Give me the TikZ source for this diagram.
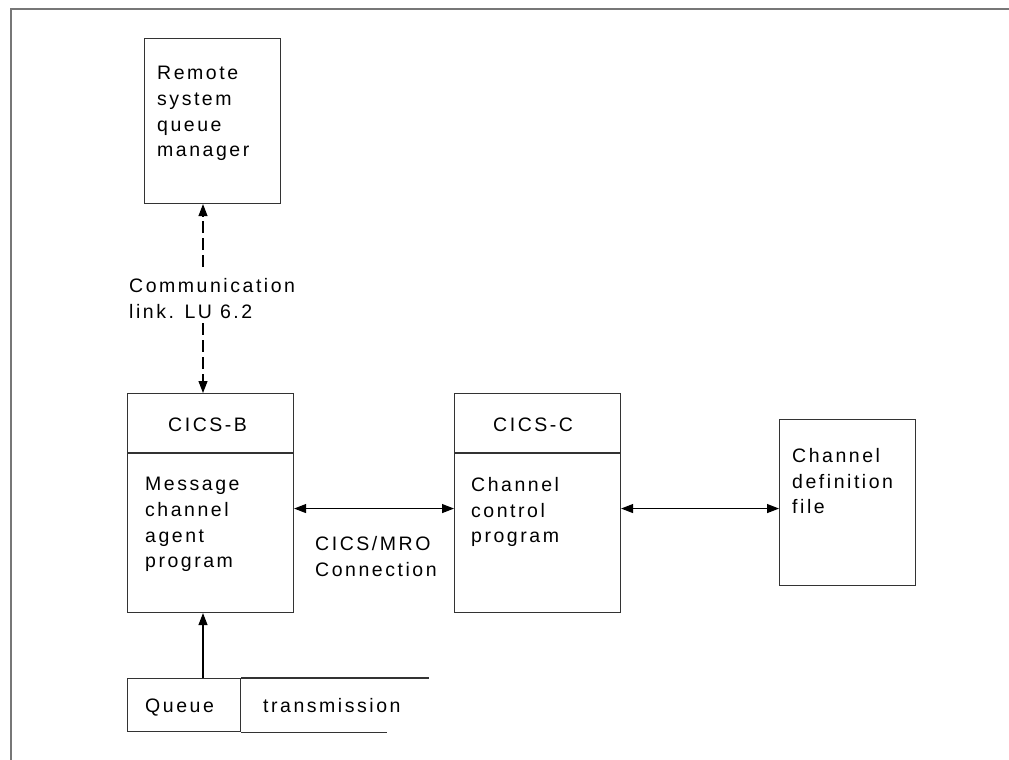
\documentclass[tikz,border=0pt]{standalone}
\usepackage{fontspec}
\setmainfont{Liberation Sans}[LetterSpace=13]
\usetikzlibrary{arrows.meta,calc}
\definecolor{edge}{HTML}{333333}
\definecolor{frame}{HTML}{777777}
\tikzset{
  box/.style={draw=edge, line width=1.1pt, rectangle, inner sep=0pt, anchor=north west},
  txt/.style={inner sep=0pt, align=left, font={\fontsize{19.5}{25.7}\selectfont}, text=black},
  tip/.style={-{Triangle[length=12pt,width=9pt]}},
  twotip/.style={{Triangle[length=12pt,width=9pt]}-{Triangle[length=12pt,width=9pt]}},
  conn/.style={draw=black, line width=1.1pt},
  dashconn/.style={conn, dash pattern=on 12pt off 5pt},
}
\begin{document}
\begin{tikzpicture}[x=1pt,y=-1pt]
\useasboundingbox (0,0) rectangle (1009,760);
% frame (top and left only)
\draw[frame, line width=2pt] (11,760) -- (11,9) -- (1009,9);

% boxes
\node[box, minimum width=136pt, minimum height=165pt] (remote) at (144,38) {};
\node[box, minimum width=166pt, minimum height=219pt] (cicsb) at (127,393) {};
\node[box, minimum width=166pt, minimum height=219pt] (cicsc) at (454,393) {};
\node[box, minimum width=136pt, minimum height=166pt] (cdf) at (779,419) {};
\node[box, minimum width=113pt, minimum height=53pt] (queuecell) at (127,678) {};

% header dividers
\draw[edge, line width=1.1pt] ([yshift=-60pt]cicsb.north west) -- ([yshift=-60pt]cicsb.north east);
\draw[edge, line width=1.1pt] ([yshift=-60pt]cicsc.north west) -- ([yshift=-60pt]cicsc.north east);

% queue open lines
\draw[edge, line width=1.1pt] (queuecell.north east) -- ++(188,0);
\draw[edge, line width=1.1pt] (queuecell.south east) -- ++(146,0);

% texts
\node[txt, anchor=north west] (tremote) at (157,66) {Remote\\system\\queue\\manager};
\node[txt, anchor=north west] (tcomm) at (129,278) {Communication\\link. LU 6.2};
\node[txt, anchor=north west] (tcicsb) at (168,418) {CICS-B};
\node[txt, anchor=north west] (tcicsc) at (493,418) {CICS-C};
\node[txt, anchor=north west] (tmca) at (145,477) {Message\\channel\\agent\\program};
\node[txt, anchor=north west] (tmro) at (315,536) {CICS/MRO\\Connection};
\node[txt, anchor=north west] (tccp) at (471,477) {Channel\\control\\program};
\node[txt, anchor=north west] (tcdf) at (792,448) {Channel\\definition\\file};
\node[txt, anchor=base west] (tqueue) at (145,712) {Queue};
\node[txt, anchor=base west] (ttrans) at (263,712) {transmission};

% connectors
\coordinate (d1) at (203,267);
\coordinate (d2) at (203,323);
\coordinate (qa) at (203,678);
\draw[dashconn, tip] (d1) -- (d1 |- remote.south);
\draw[dashconn, tip] (d2) -- (d2 |- cicsb.north);
\draw[conn, tip] (qa) -- (qa |- cicsb.south);
\draw[conn, twotip] ([yshift=-5.5pt]cicsb.east) -- ([yshift=-5.5pt]cicsc.west);
\draw[conn, twotip] ([yshift=-5.5pt]cicsc.east) -- ([yshift=-5.5pt]cicsc.east -| cdf.west);
\end{tikzpicture}
\end{document}
